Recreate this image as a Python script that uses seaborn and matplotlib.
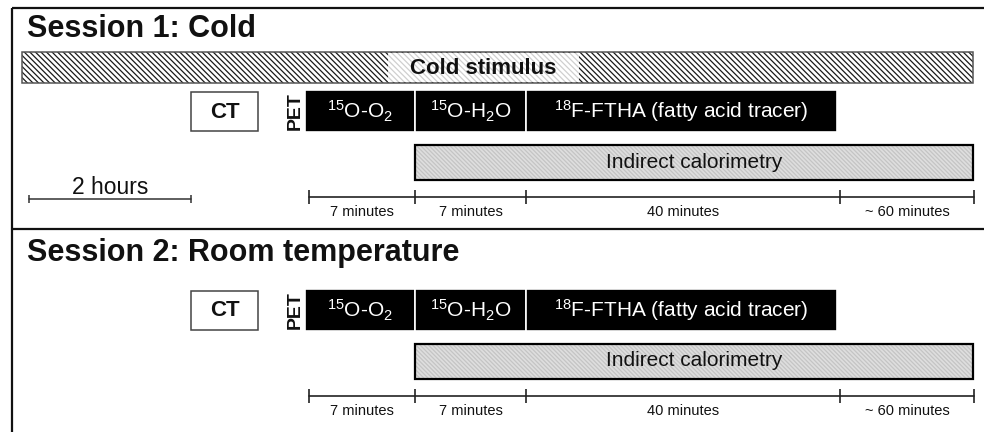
import numpy as np
import matplotlib
matplotlib.use('Agg')
import matplotlib.pyplot as plt
from matplotlib.patches import Rectangle
import seaborn as sns

# Dados do diagrama (linha do tempo esquematica, nao esta em escala)
session_titles = ['Session 1: Cold', 'Session 2: Room temperature']
has_cold = [True, False]
pet_tracers = ['$^{15}$O-O$_2$', '$^{15}$O-H$_2$O', '$^{18}$F-FTHA (fatty acid tracer)']
pet_edges = [305, 415, 526, 837]
segment_labels = ['7 minutes', '7 minutes', '40 minutes', '~ 60 minutes']
segment_edges = [309, 415, 526, 840, 974]
calorimetry_span = [415, 973]
cold_span = [22, 973]
cold_label_span = [388, 579]
ct_span = [191, 258]
scale_bar = [29, 191]
scale_label = '2 hours'

sns.set_theme(style='white')
plt.rcParams['font.family'] = ['Liberation Sans', 'DejaVu Sans']
plt.rcParams['mathtext.fontset'] = 'custom'
plt.rcParams['mathtext.rm'] = 'Liberation Sans'
plt.rcParams['mathtext.it'] = 'Liberation Sans:italic'
plt.rcParams['mathtext.bf'] = 'Liberation Sans:bold'
plt.rcParams['hatch.linewidth'] = 0.9

fig = plt.figure(figsize=(9.84, 4.32), dpi=100)
ax = fig.add_axes([0, 0, 1, 1])


def hatched_box(x0, x1, y0, y1, face, hatch_color, hatch, edge, lw):
    ax.add_patch(Rectangle((x0, y0), x1 - x0, y1 - y0, facecolor=face,
                           edgecolor=hatch_color, hatch=hatch, linewidth=0))
    ax.add_patch(Rectangle((x0, y0), x1 - x0, y1 - y0, fill=False,
                           edgecolor=edge, linewidth=lw))


title_y = [29, 253]
row_top = [90, 289]

for i, title in enumerate(session_titles):
    ty, y0 = title_y[i], row_top[i]
    ax.text(27, ty, title, fontsize=22, fontweight='bold', ha='left', va='center', color='#111111')

    if has_cold[i]:
        hatched_box(cold_span[0], cold_span[1], 52, 83, 'white', '#1a1a1a', '\\' * 6, '#555555', 1.1)
        hatched_box(cold_label_span[0], cold_label_span[1], 53, 82, 'white', '#cfcfcf', '\\' * 6, 'none', 0)
        ax.text(np.mean(cold_label_span), 68, 'Cold stimulus', fontsize=16, fontweight='bold',
                ha='center', va='center', color='#111111')
        # barra de escala
        sns.lineplot(x=scale_bar, y=[199, 199], color='#333333', linewidth=1.1, ax=ax)
        sns.scatterplot(x=scale_bar, y=[199, 199], marker='|', s=40, color='#333333',
                        linewidth=1.1, ax=ax)
        ax.text(np.mean(scale_bar), 199, scale_label, fontsize=16.5, ha='center', va='bottom',
                color='#111111')

    # CT
    ax.add_patch(Rectangle((ct_span[0], y0 + 2), ct_span[1] - ct_span[0], 39, facecolor='white',
                           edgecolor='#444444', linewidth=1.1))
    ax.text(np.mean(ct_span), y0 + 22, 'CT', fontsize=16, fontweight='bold', ha='center',
            va='center', color='#111111')

    # PET
    ax.text(295, y0 + 21, 'PET', fontsize=14, fontweight='bold', rotation=90, ha='center',
            va='center', color='#111111')
    lefts = pet_edges[:-1]
    widths = np.diff(pet_edges)
    ax.barh([y0 + 21] * 3, widths, left=lefts, height=42, color='black', edgecolor='white',
            linewidth=1.2)
    for left, w, tracer in zip(lefts, widths, pet_tracers):
        ax.text(left + w / 2, y0 + 21, tracer, fontsize=15, color='white', ha='center', va='center')

    # calorimetria indireta
    hatched_box(calorimetry_span[0], calorimetry_span[1], y0 + 55, y0 + 90, '#dedede', '#c4c4c4',
                '\\' * 8, 'black', 1.6)
    ax.text(np.mean(calorimetry_span), y0 + 72, 'Indirect calorimetry', fontsize=15, ha='center',
            va='center', color='#111111')

    # linha do tempo
    ry = y0 + 107
    sns.lineplot(x=segment_edges, y=[ry] * len(segment_edges), color='#222222', linewidth=1.2, ax=ax)
    sns.scatterplot(x=segment_edges, y=[ry] * len(segment_edges), marker='|', s=90,
                    color='#222222', linewidth=1.2, ax=ax)
    for a, b, lab in zip(segment_edges[:-1], segment_edges[1:], segment_labels):
        ax.text((a + b) / 2, ry + 15, lab, fontsize=10.5, ha='center', va='center', color='#111111')

# moldura e divisao
ax.add_patch(Rectangle((12, 8), 980, 430, fill=False, edgecolor='#111111', linewidth=1.6))
ax.plot([12, 990], [229, 229], color='#111111', linewidth=1.6)

ax.set_xlim(0, 984)
ax.set_ylim(432, 0)
ax.axis('off')
if ax.get_legend() is not None:
    ax.get_legend().remove()

fig.savefig('out.png', dpi=100)
